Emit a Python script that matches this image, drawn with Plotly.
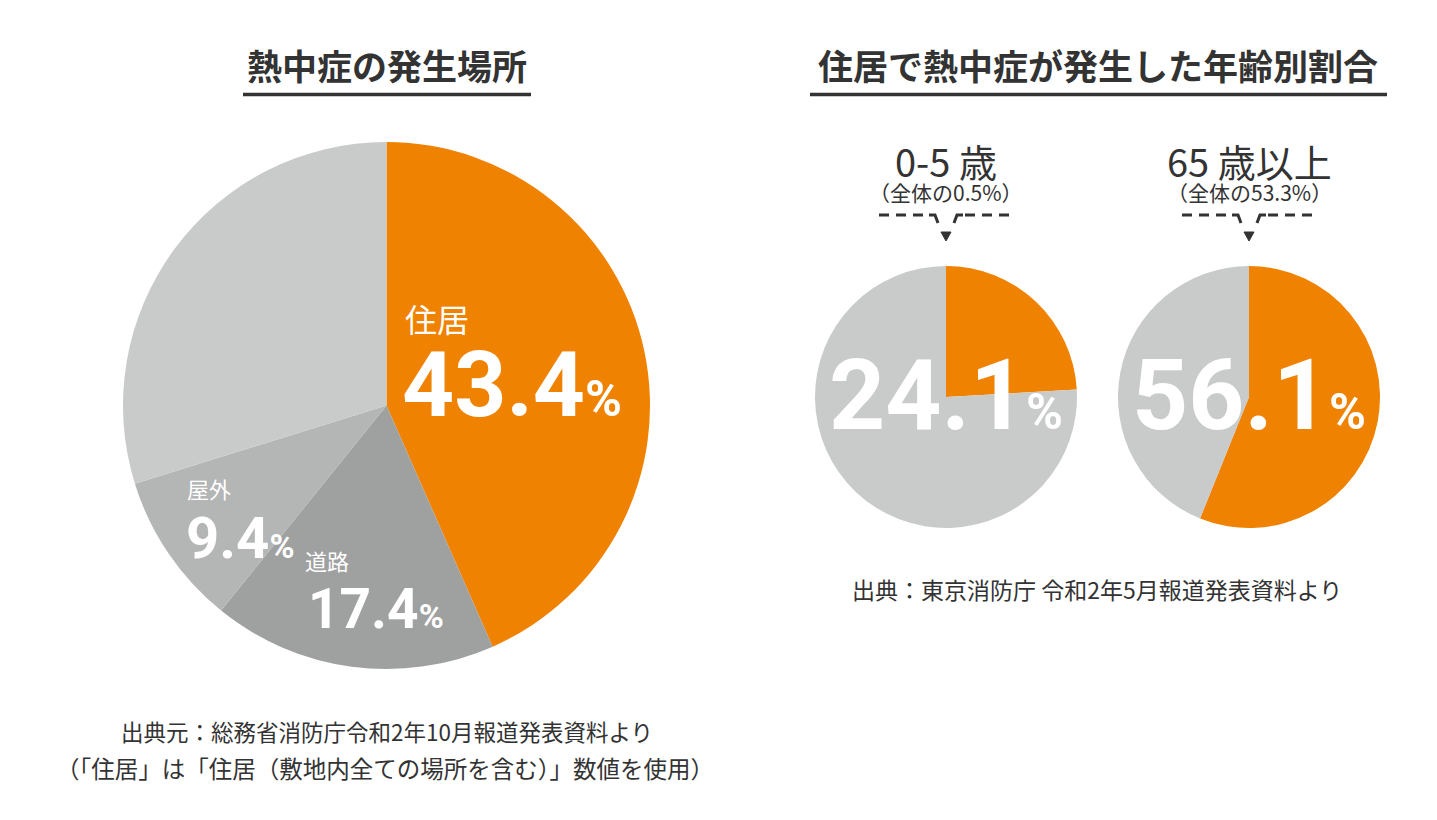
import plotly.graph_objects as go

# ---------------- data ----------------
place_labels = ["住居", "道路", "屋外", "その他"]
place_values = [43.4, 17.4, 9.4, 29.8]
place_colors = ["#EF8200", "#9FA0A0", "#B4B5B5", "#C9CACA"]

age_labels = ["0-5 歳", "65 歳以上"]
age_values = [24.1, 56.1]
age_share = ["0.5%", "53.3%"]
age_colors = ["#EF8200", "#C9CACA"]

title_left = "熱中症の発生場所"
title_right = "住居で熱中症が発生した年齢別割合"
source_left = ["出典元：総務省消防庁令和2年10月報道発表資料より",
               "（「住居」は「住居（敷地内全ての場所を含む）」数値を使用）"]
source_right = "出典：東京消防庁 令和2年5月報道発表資料より"

# ---------------- layout helpers ----------------
W, H = 1437, 820
OFF = 8  # page body margin
JP = "Noto Sans CJK JP"
NUM = "Roboto"
DARK = "#333333"


def dom(x0, x1, y0, y1):
    return dict(x=[(x0 - OFF) / W, (x1 - OFF) / W], y=[1 - (y1 - OFF) / H, 1 - (y0 - OFF) / H])


fig = go.Figure()

# main pie
fig.add_trace(go.Pie(
    labels=place_labels, values=place_values, sort=False, direction="clockwise",
    rotation=0, marker=dict(colors=place_colors, line=dict(width=0)),
    textinfo="none", hoverinfo="label+percent", showlegend=False,
    domain=dom(123, 650, 142, 669)))

# age pies
age_centers = [946, 1249]
R = 131
for lab, v, cx in zip(age_labels, age_values, age_centers):
    fig.add_trace(go.Pie(
        labels=[lab, "その他"], values=[v, round(100 - v, 1)], sort=False,
        direction="clockwise", rotation=0,
        marker=dict(colors=age_colors, line=dict(width=0)),
        textinfo="none", hoverinfo="label+percent", showlegend=False,
        domain=dom(cx - R, cx + R, 397 - R, 397 + R)))

annotations = []
shapes = []


def ann(text, x, y, size, color=DARK, family=JP, xanchor="center", yanchor="middle", weight="normal"):
    annotations.append(dict(text=text, x=x, y=y, xref="x", yref="y", showarrow=False,
                            xanchor=xanchor, yanchor=yanchor,
                            font=dict(size=size, color=color, family=family, weight=weight)))


def pct(v, pct_size):
    return f"{v}<span style='font-size:{pct_size}px'>%</span>"


# titles + underlines
ann(title_left, 387, 64, 35, weight="bold")
ann(title_right, 1098, 64, 35, weight="bold")
shapes.append(dict(type="line", xref="x", yref="y", x0=243, x1=531, y0=94.5, y1=94.5,
                   line=dict(color=DARK, width=3.5)))
shapes.append(dict(type="line", xref="x", yref="y", x0=810, x1=1387, y0=94.5, y1=94.5,
                   line=dict(color=DARK, width=3.5)))

# main pie labels
ann(place_labels[0], 403, 318, 32, color="white", xanchor="left")
ann(pct(place_values[0], 50), 400, 385, 91, color="white", family=NUM, xanchor="left", weight="bold")
ann(place_labels[2], 185, 488, 22, color="white", xanchor="left")
ann(pct(place_values[2], 34), 184, 538, 58, color="white", family=NUM, xanchor="left", weight="bold")
ann(place_labels[1], 303, 560, 22, color="white", xanchor="left")
ann(pct(place_values[1], 34), 306, 609, 55, color="white", family=NUM, xanchor="left", weight="bold")

# age pies labels
for lab, v, share, cx in zip(age_labels, age_values, age_share, age_centers):
    ann(pct(v, 50), cx, 395, 98, color="white", family=NUM, weight="bold")
    ann(lab, cx, 160, 38)
    ann(f"（全体の{share}）", cx, 192, 21)
    # dashed connector
    shapes.append(dict(type="line", xref="x", yref="y", x0=cx - 67, x1=cx - 19, y0=215, y1=215,
                       line=dict(color=DARK, width=3, dash="10px,7px")))
    shapes.append(dict(type="line", xref="x", yref="y", x0=cx + 19, x1=cx + 67, y0=215, y1=215,
                       line=dict(color=DARK, width=3, dash="10px,7px")))
    shapes.append(dict(type="path", xref="x", yref="y",
                       path=f"M {cx-17} 215 L {cx-11} 215 L {cx-8} 223",
                       line=dict(color=DARK, width=3)))
    shapes.append(dict(type="path", xref="x", yref="y",
                       path=f"M {cx+17} 215 L {cx+11} 215 L {cx+8} 223",
                       line=dict(color=DARK, width=3)))
    shapes.append(dict(type="path", xref="x", yref="y",
                       path=f"M {cx-5} 232 L {cx+5} 232 L {cx} 241 Z",
                       fillcolor=DARK, line=dict(color=DARK, width=1)))

# sources
ann(source_left[0], 387, 731, 22.5)
ann(source_left[1], 385, 768, 23.5)
ann(source_right, 1097, 589, 23)

fig.update_layout(
    width=W, height=H, margin=dict(l=0, r=0, t=0, b=0),
    paper_bgcolor="white", plot_bgcolor="white",
    xaxis=dict(range=[OFF, W + OFF], visible=False, fixedrange=True),
    yaxis=dict(range=[H + OFF, OFF], visible=False, fixedrange=True),
    annotations=annotations, shapes=shapes, dragmode=False,
    font=dict(family=JP, color=DARK),
)

fig.write_html("out.html", config={"displayModeBar": False})
